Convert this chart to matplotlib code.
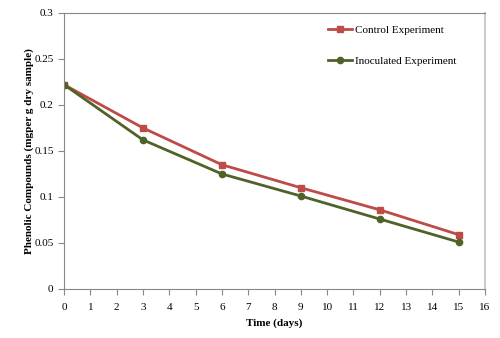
import matplotlib.pyplot as plt

plt.rcParams['font.family'] = 'Liberation Serif'

days = [0, 3, 6, 9, 12, 15]
control = [0.222, 0.175, 0.135, 0.110, 0.086, 0.059]
inoculated = [0.222, 0.162, 0.125, 0.101, 0.076, 0.051]

fig = plt.figure(figsize=(5.0, 3.38), dpi=100)
ax = fig.add_axes([0.128, 0.145, 0.842, 0.817])

ax.plot(days, control, '-s', color='#BE4B48', lw=2, ms=4.5, label='Control Experiment')
ax.plot(days, inoculated, '-o', color='#4F6228', lw=2, ms=4.5, label='Inoculated Experiment')

ax.set_xlim(0, 16)
ax.set_ylim(0, 0.3)
ax.set_xticks(range(0, 17))
ax.set_yticks([0, 0.05, 0.1, 0.15, 0.2, 0.25, 0.3])
ax.set_yticklabels(['0', '0.05', '0.1', '0.15', '0.2', '0.25', '0.3'])
ax.tick_params(labelsize=8, length=4, color='#888888', direction='out')
ax.tick_params(axis='x', pad=6)

for s in ax.spines.values():
    s.set_color('#888888')
ax.spines['right'].set_color('#CCCCCC')
ax.spines['right'].set_linewidth(1.5)

ax.set_xlabel('Time (days)', fontsize=8, fontweight='bold', labelpad=5)
ax.set_ylabel('Phenolic Compounds (mgper g dry sample)', fontsize=8, fontweight='bold', labelpad=0)

ax.legend(loc='upper right', bbox_to_anchor=(0.955, 0.99), frameon=False, fontsize=8,
          handlelength=2.2, handletextpad=0.2, labelspacing=1.9)

fig.savefig('out.png', dpi=100)
